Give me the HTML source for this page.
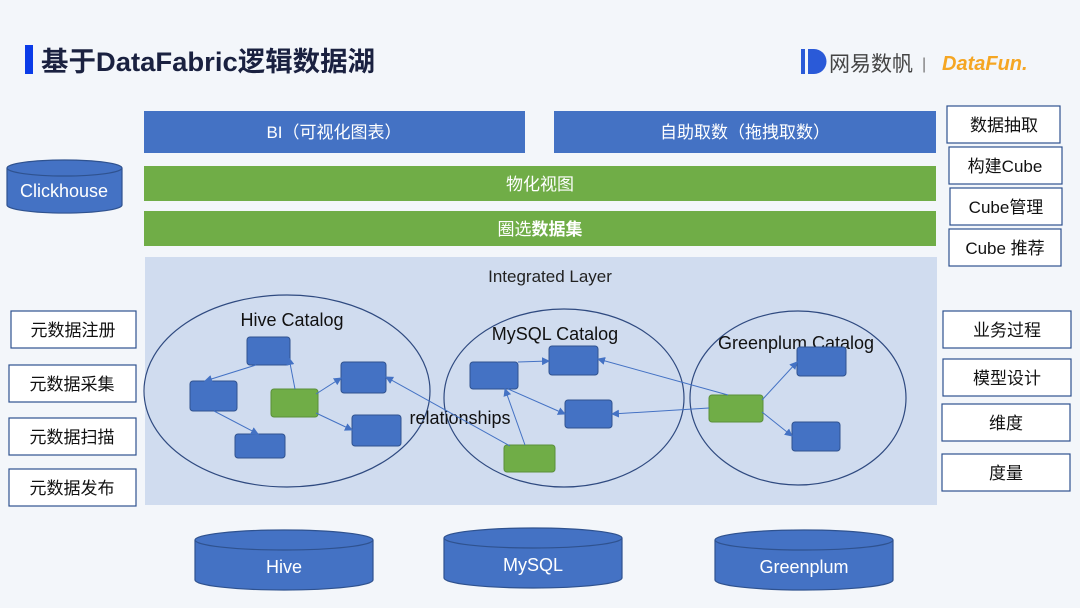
<html><head><style>body{margin:0;width:1080px;height:608px;background:#f3f6fa;overflow:hidden;font-family:"Liberation Sans","Noto Sans CJK SC",sans-serif}</style></head><body>
<svg width="1080" height="608" xmlns="http://www.w3.org/2000/svg" font-family="Liberation Sans, Noto Sans CJK SC, sans-serif">
<defs><marker id="a" markerWidth="8" markerHeight="8" refX="7" refY="4" orient="auto" markerUnits="userSpaceOnUse"><path d="M0,0 L8,4 L0,8 z" fill="#4472c4"/></marker></defs>
<rect x="25" y="45" width="8" height="29" fill="#0a3be8"/>
<text x="41" y="71" font-size="27" font-weight="bold" fill="#1a2140" textLength="334" lengthAdjust="spacingAndGlyphs">基于DataFabric逻辑数据湖</text>
<g fill="#2a5ad8"><rect x="801" y="49" width="4" height="25"/><path d="M808,49 h6 a12,12 0 0 1 0,25 h-6z"/></g>
<text x="829" y="71" font-size="21" fill="#444">网易数帆</text>
<text x="922" y="69" font-size="16" fill="#777">|</text>
<text x="942" y="70" font-size="20" font-style="italic" font-weight="bold" fill="#f5a623">DataFun.</text>
<rect x="144" y="111" width="381" height="42" fill="#4472c4"/>
<text x="334" y="138" font-size="17" fill="#fff" text-anchor="middle">BI（可视化图表）</text>
<rect x="554" y="111" width="382" height="42" fill="#4472c4"/>
<text x="745" y="138" font-size="17" fill="#fff" text-anchor="middle">自助取数（拖拽取数）</text>
<rect x="144" y="166" width="792" height="35" fill="#70ad47"/>
<text x="540" y="190" font-size="17" fill="#fff" text-anchor="middle">物化视图</text>
<rect x="144" y="211" width="792" height="35" fill="#70ad47"/>
<text x="540" y="235" font-size="17" fill="#fff" text-anchor="middle">圈选<tspan font-weight="bold">数据集</tspan></text>
<rect x="145" y="257" width="792" height="248" fill="#d0dcef"/>
<text x="550" y="282" font-size="17" fill="#222" text-anchor="middle">Integrated Layer</text>
<g fill="none" stroke="#2f4a80" stroke-width="1.2">
<ellipse cx="287" cy="391" rx="143" ry="96"/><ellipse cx="564" cy="398" rx="120" ry="89"/><ellipse cx="798" cy="398" rx="108" ry="87"/></g>
<g font-size="18" fill="#111" text-anchor="middle"><text x="292" y="326">Hive Catalog</text><text x="555" y="340">MySQL Catalog</text><text x="796" y="349">Greenplum Catalog</text><text x="460" y="424">relationships</text></g>
<g stroke="#2f528f" stroke-width="1">
<g fill="#4472c4"><rect x="247" y="337" width="43" height="28" rx="3"/><rect x="190" y="381" width="47" height="30" rx="3"/><rect x="341" y="362" width="45" height="31" rx="3"/><rect x="352" y="415" width="49" height="31" rx="3"/><rect x="235" y="434" width="50" height="24" rx="3"/>
<rect x="470" y="362" width="48" height="27" rx="3"/><rect x="549" y="346" width="49" height="29" rx="3"/><rect x="565" y="400" width="47" height="28" rx="3"/>
<rect x="797" y="347" width="49" height="29" rx="3"/><rect x="792" y="422" width="48" height="29" rx="3"/></g>
<g fill="#70ad47" stroke="#5a8f3a"><rect x="271" y="389" width="47" height="28" rx="3"/><rect x="504" y="445" width="51" height="27" rx="3"/><rect x="709" y="395" width="54" height="27" rx="3"/></g></g>
<g stroke="#4472c4" stroke-width="1" marker-end="url(#a)">
<line x1="256" y1="365" x2="205" y2="381"/><line x1="214" y1="411" x2="258" y2="434"/><line x1="295" y1="389" x2="289" y2="358"/><line x1="316" y1="394" x2="341" y2="378"/><line x1="316" y1="413" x2="352" y2="430"/>
<line x1="510" y1="446" x2="386" y2="377"/><line x1="525" y1="445" x2="505" y2="389"/><line x1="518" y1="362" x2="549" y2="361"/><line x1="508" y1="389" x2="565" y2="414"/>
<line x1="728" y1="395" x2="598" y2="359"/><line x1="709" y1="408" x2="612" y2="414"/><line x1="762" y1="400" x2="797" y2="362"/><line x1="762" y1="412" x2="792" y2="436"/></g>
<g fill="#fff" stroke="#2f528f" stroke-width="1.2" font-size="17" text-anchor="middle">
<g><rect x="947" y="106" width="113" height="37"/><rect x="949" y="147" width="113" height="37"/><rect x="950" y="188" width="112" height="37"/><rect x="949" y="229" width="112" height="37"/>
<rect x="943" y="311" width="128" height="37"/><rect x="943" y="359" width="128" height="37"/><rect x="942" y="404" width="128" height="37"/><rect x="942" y="454" width="128" height="37"/>
<rect x="11" y="311" width="125" height="37"/><rect x="9" y="365" width="127" height="37"/><rect x="9" y="418" width="127" height="37"/><rect x="9" y="469" width="127" height="37"/></g>
<g fill="#111" stroke="none"><text x="1004" y="131">数据抽取</text><text x="1005" y="172">构建Cube</text><text x="1006" y="213">Cube管理</text><text x="1005" y="254">Cube 推荐</text>
<text x="1007" y="336">业务过程</text><text x="1007" y="384">模型设计</text><text x="1006" y="429">维度</text><text x="1006" y="479">度量</text>
<text x="73" y="336">元数据注册</text><text x="72" y="390">元数据采集</text><text x="72" y="443">元数据扫描</text><text x="72" y="494">元数据发布</text></g></g>
<g fill="#4472c4" stroke="#2f528f" stroke-width="1.2">
<path d="M7,168 v37 a57,8 0 0 0 115,0 v-37"/><ellipse cx="64.5" cy="168" rx="57.5" ry="8"/>
<path d="M195,540 v40 a89,10 0 0 0 178,0 v-40"/><ellipse cx="284" cy="540" rx="89" ry="10"/>
<path d="M444,538 v40 a89,10 0 0 0 178,0 v-40"/><ellipse cx="533" cy="538" rx="89" ry="10"/>
<path d="M715,540 v40 a89,10 0 0 0 178,0 v-40"/><ellipse cx="804" cy="540" rx="89" ry="10"/></g>
<g fill="#fff" font-size="18" text-anchor="middle"><text x="64" y="197">Clickhouse</text><text x="284" y="573">Hive</text><text x="533" y="571">MySQL</text><text x="804" y="573">Greenplum</text></g>
</svg></body></html>
